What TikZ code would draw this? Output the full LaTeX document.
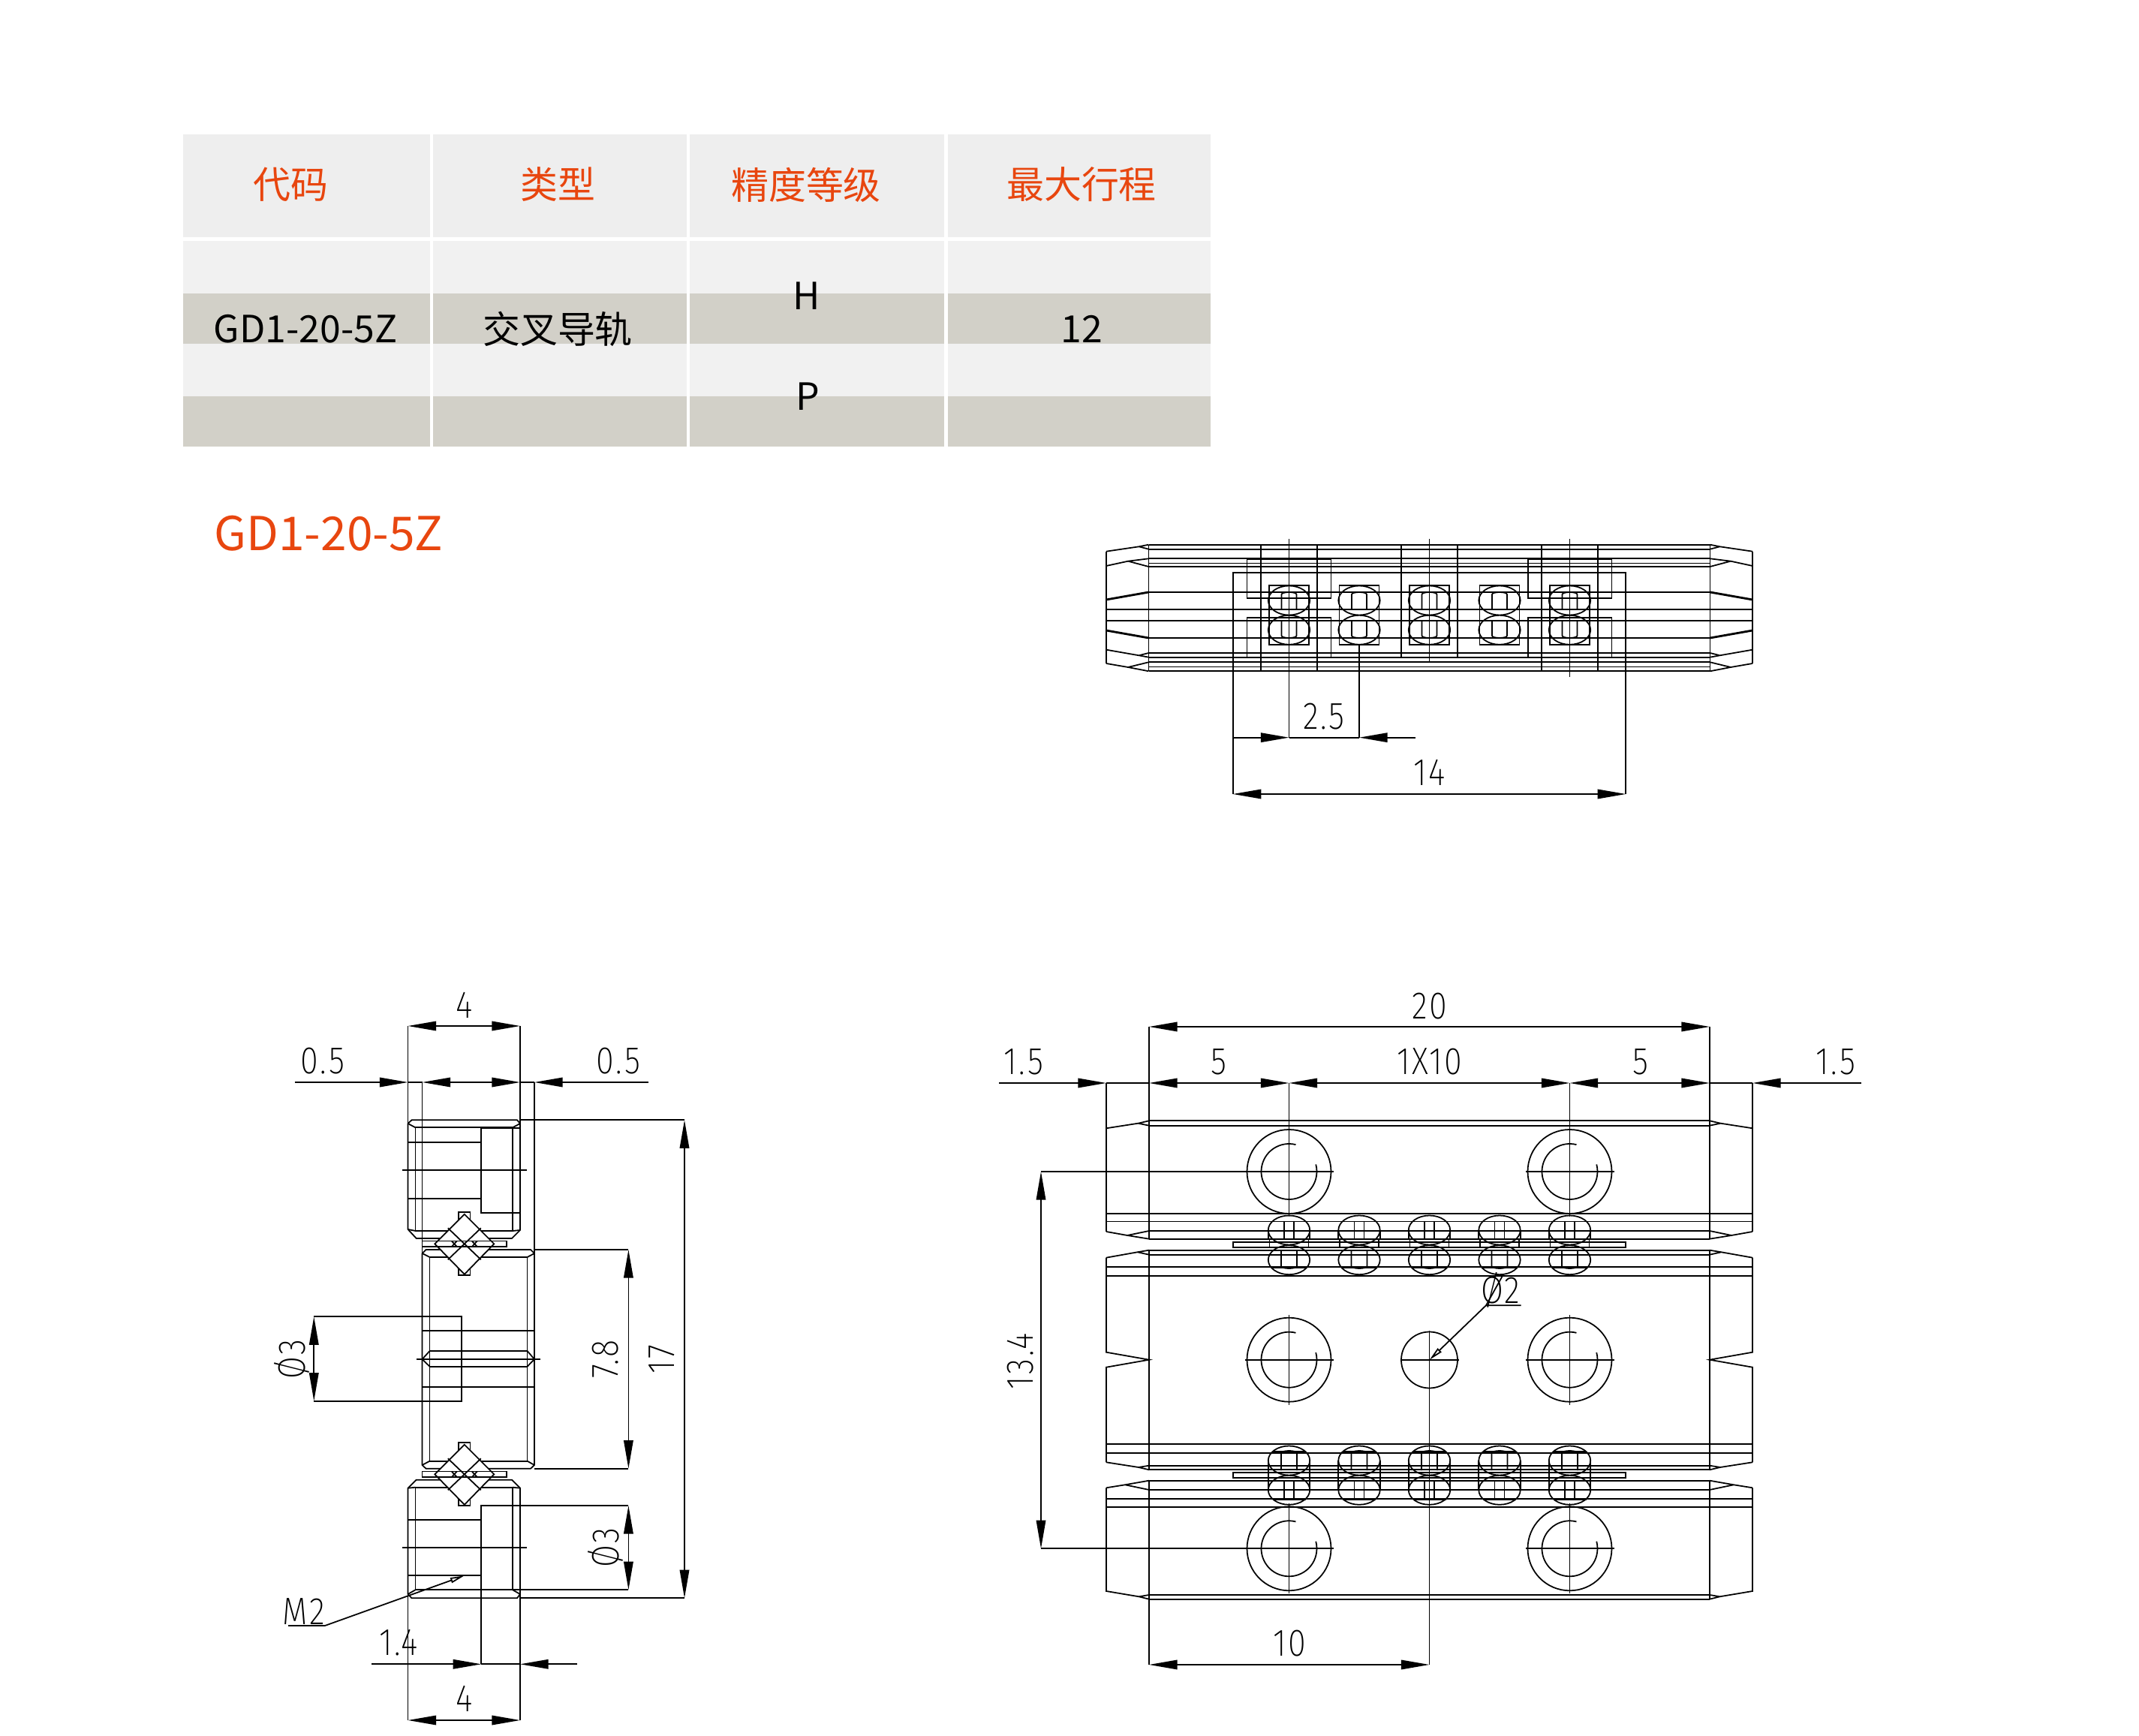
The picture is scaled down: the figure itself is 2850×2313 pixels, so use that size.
\documentclass[tikz,border=0pt]{standalone}
\usepackage{fontspec}
\usepackage{tikz}
\usetikzlibrary{arrows.meta}
\newfontfamily\cjk{Noto Sans CJK SC}
\newfontfamily\cadfont[UprightFont={* ExtraLight},FakeStretch=0.85,LetterSpace=5]{Fira Sans}
\definecolor{headfill}{HTML}{EEEEEE}
\definecolor{lightfill}{HTML}{F1F1F1}
\definecolor{darkfill}{HTML}{D2D0C8}
\definecolor{orangetext}{HTML}{E8460F}

\begin{document}
\begin{tikzpicture}[x=0.01cm,y=-0.01cm,line width=.5pt,>={Triangle[length=.376cm,width=.125cm]},
  dimline/.style={<->},
  dimarrow/.style={->},
  leader/.style={-{Triangle[open,length=.19cm,width=.07cm]}},
  heavy/.style={line width=.8pt},
  headlabel/.style={text=orangetext,font=\cjk\fontsize{14.2}{14.2}\selectfont,inner sep=0pt},
  celllabel/.style={font=\cjk\fontsize{14.2}{14.2}\selectfont,inner sep=0pt},
  dimlabel/.style={font=\cadfont\fontsize{14.5}{14.5}\selectfont,inner sep=0pt}]

  \useasboundingbox (0,0) rectangle (2850,2313);

  % table
  \foreach \xa/\xb in {243.5/573,577/915,919/1258,1262.5/1613} {
    \fill[headfill] (\xa,179) rectangle (\xb,316);
    \fill[lightfill] (\xa,321) rectangle (\xb,391);
    \fill[darkfill] (\xa,391) rectangle (\xb,458);
    \fill[lightfill] (\xa,458) rectangle (\xb,528.5);
    \fill[darkfill] (\xa,528.5) rectangle (\xb,595);
  }
  \node[headlabel] (code) at (387,246) {代码};
  \node[headlabel] (kind) at (743,246) {类型};
  \node[headlabel] (grade) at (1074,246) {精度等级};
  \node[headlabel] (stroke) at (1441,246) {最大行程};
  \node[celllabel] (codeval) at (407,438) {GD1-20-5Z};
  \node[celllabel] (kindval) at (743,438) {交叉导轨};
  \node[celllabel] (gradeh) at (1075,394) {H};
  \node[celllabel] (gradep) at (1076,528) {P};
  \node[celllabel] (strokeval) at (1441,438) {12};
  \node[text=orangetext,font=\cjk\fontsize{17.7}{17.7}\selectfont,inner sep=0pt] (title) at (438,711) {GD1-20-5Z};

  % top view
  \foreach \s in {1,-1} {
    \begin{scope}[shift={(1904.5,0)},xscale=\s]
      \draw (-430.5,734.7)--(-387,728.3)--(-374,725.7) (-387,728.3)--(-374,731.7);
      \draw (-430.5,754)--(-401.5,747.7)--(-374,744.3) (-401.5,747.7)--(-374,755);
      \draw[heavy] (-430.5,799)--(-374,789) (-430.5,840)--(-374,850);
      \draw (-430.5,865.7)--(-387,873.3)--(-374,870) (-387,873.3)--(-374,875.7);
      \draw (-430.5,884)--(-401.5,889)--(-374,882.3) (-401.5,889)--(-374,894.3);
      \draw (-430.5,734.7)--(-430.5,884) (-374,725.7)--(-374,894.3);
    \end{scope}
  }
  \draw (1530.5,725.7)--(2278.5,725.7) (1530.5,731.7)--(2278.5,731.7);
  \draw (1530.5,744.3)--(2278.5,744.3) (1530.5,750.5)--(2278.5,750.5) (1530.5,755)--(2278.5,755);
  \draw[heavy] (1530.5,789)--(2278.5,789) (1530.5,850)--(2278.5,850);
  \draw (1474,812)--(2335,812) (1474,827.3)--(2335,827.3);
  \draw (1530.5,870)--(2278.5,870) (1530.5,875.7)--(2278.5,875.7) (1530.5,882.3)--(2278.5,882.3);
  \draw (1530.5,888.5)--(2278.5,888.5) (1530.5,894.3)--(2278.5,894.3);
  \draw (1642.7,1058)--(1642.7,763)--(2166.3,763)--(2166.3,1058);
  \draw (1661.5,745) rectangle (1773.4,797.3) (1661.5,823.3) rectangle (1773.4,875.7);
  \draw (2035.8,745) rectangle (2147.5,797.3) (2035.8,823.3) rectangle (2147.5,875.7);
  \draw (1680,725.7)--(1680,894.3) (1755,725.7)--(1755,894.3);
  \draw (1867,725.7)--(1867,875.7) (1942,725.7)--(1942,875.7);
  \draw (2054,725.7)--(2054,894.3) (2129,725.7)--(2129,894.3);
  \foreach \cx in {1717.5,1811,1904.5,1998,2091.5} {
    \begin{scope}[shift={(\cx,0)}]
      \draw (-26.5,780) rectangle (26.5,859);
      \draw (0,800) ellipse (27.7 and 19.5) (0,839.3) ellipse (27.7 and 19.5);
      \draw (-10,812)--(-10,792) arc (180:360:10 and 3)--(10,812);
      \draw (-10,827)--(-10,847) arc (180:0:10 and 3)--(10,827);
    \end{scope}
  }
  \draw (1717.5,718)--(1717.5,982.7) (1811,859)--(1811,982.7);
  \draw (1904.5,718)--(1904.5,883) (2091.5,718)--(2091.5,902);
  \draw[dimarrow] (1642.7,982.7)--(1717.5,982.7);
  \draw (1717.5,982.7)--(1811,982.7);
  \draw[dimarrow] (1886,982.7)--(1811,982.7);
  \draw[dimline] (1642.7,1058)--(2166.3,1058);
  \node[dimlabel] (pitch) at (1764,954.5) {2.5};
  \node[dimlabel] (span) at (1905,1029.5) {14};

  % side view, rail blocks
  \draw (543.6,1497)--(548.5,1492.3)--(689,1492.3)--(693,1497)--(693,1639)--(682,1650)--(554.7,1650)--(543.6,1638)--cycle;
  \draw (553.5,1502.3) rectangle (683,1640);
  \draw (543.6,1497)--(553.5,1502.3) (693,1497)--(683,1502.3) (543.6,1638)--(553.5,1640) (693,1639)--(683,1640);
  \draw (641.3,1503.3) rectangle (693,1616);
  \draw (543.6,1521.7)--(641.3,1521.7) (543.6,1596.7)--(641.3,1596.7) (535.7,1559.3)--(701.8,1559.3);
  \draw (543.6,1367)--(543.6,1497) (693,1367)--(693,1497);
  \draw (562.6,1442)--(562.6,1670) (712,1442)--(712,1670);
  \draw (693,1492.3)--(912,1492.3) (712,1665)--(837.4,1665);

  \draw (562.6,1670)--(567.5,1665)--(707,1665)--(712,1670)--(712,1952)--(707,1956.7)--(567.5,1956.7)--(562.6,1952)--cycle;
  \draw (572.5,1675) rectangle (702.6,1946.7);
  \draw (562.6,1670)--(572.5,1675) (712,1670)--(702.6,1675) (562.6,1952)--(572.5,1946.7) (712,1952)--(702.6,1946.7);
  \draw (562.6,1773.3)--(712,1773.3) (562.6,1848.3)--(712,1848.3);
  \draw (572.5,1800)--(702.6,1800) (572.5,1820.7)--(702.6,1820.7);
  \draw (572.5,1800)--(562.6,1811)--(572.5,1820.7) (702.6,1800)--(712,1811)--(702.6,1820.7);
  \draw (554.7,1811)--(719.6,1811);
  \draw (418.3,1754.3)--(614.8,1754.3)--(614.8,1866.7)--(418.3,1866.7);
  \draw (712,1956.7)--(837.4,1956.7);

  \draw (543.6,1982.7)--(554.7,1971.7)--(682,1971.7)--(693,1982.7)--(693,2124)--(689,2129.3)--(548.5,2129.3)--(543.6,2124)--cycle;
  \draw (553.5,1981.7) rectangle (683,2118.3);
  \draw (543.6,1982.7)--(553.5,1981.7) (693,1982.7)--(683,1981.7) (543.6,2124)--(553.5,2118.3) (693,2124)--(683,2118.3);
  \draw (837.4,2006)--(641.3,2006)--(641.3,2217.3) (641.3,2118.3)--(837.4,2118.3);
  \draw (543.6,2025)--(641.3,2025) (543.6,2099.3)--(641.3,2099.3) (535.7,2061.7)--(701.8,2061.7);
  \draw (693,2129.3)--(912,2129.3);
  \draw (543.6,2124)--(543.6,2292) (693,2124)--(693,2292);

  % side view, rollers
  \foreach \yc in {1657.3,1964.3} {
    \begin{scope}[shift={(618.8,\yc)}]
      \draw (-7.7,-42) rectangle (7.7,-30) (-7.7,30) rectangle (7.7,42);
      \draw[fill=white] (0,-39.5)--(39.5,0)--(0,40.5)--(-39.5,0)--cycle;
      \draw (-56.2,-3.8) rectangle (56.2,3.8);
      \draw (-22,-21)--(22,21) (22,-21)--(-22,21);
      \draw (-17,-3.8)--(-10,3.8) (-10,-3.8)--(-17,3.8) (17,-3.8)--(10,3.8) (10,-3.8)--(17,3.8);
    \end{scope}
  }

  % side view, dimensions
  \draw[dimline] (543.6,1367)--(693,1367);
  \draw[dimarrow] (392.6,1442)--(543.6,1442);
  \draw (543.6,1442)--(562.6,1442) (693,1442)--(712,1442);
  \draw[dimline] (562.6,1442)--(693,1442);
  \draw[dimarrow] (864,1442)--(712,1442);
  \draw[dimline] (912,1492.3)--(912,2129.3);
  \draw[dimline] (837.4,1665)--(837.4,1956.7);
  \draw[dimline] (418.3,1754.3)--(418.3,1866.7);
  \draw[dimline] (837.4,2006)--(837.4,2118.3);
  \draw[dimarrow] (495,2217.3)--(641.3,2217.3);
  \draw (641.3,2217.3)--(693,2217.3);
  \draw[dimarrow] (769,2217.3)--(693,2217.3);
  \draw[dimline] (543.6,2292)--(693,2292);
  \draw (384.3,2166)--(433,2166);
  \draw[leader] (433,2166)--(618.8,2099.3);
  \node[dimlabel] (sidewidth) at (618.8,1339) {4};
  \node[dimlabel] (sideleft) at (430,1413.5) {0.5};
  \node[dimlabel] (sideright) at (824,1413.5) {0.5};
  \node[dimlabel,rotate=90] (sidebore) at (389.4,1811) {Ø3};
  \node[dimlabel,rotate=90] (sideheight) at (806.6,1811) {7.8};
  \node[dimlabel,rotate=90] (sidetotal) at (881.7,1811) {17};
  \node[dimlabel,rotate=90] (sidethread) at (806.6,2062) {Ø3};
  \node[dimlabel] (threadlabel) at (404.4,2147) {M2};
  \node[dimlabel] (sidedepth) at (531,2188.5) {1.4};
  \node[dimlabel] (sidebottom) at (618.8,2263.5) {4};

  % front view, outlines
  \foreach \s in {1,-1} {
    \begin{scope}[shift={(1904.5,0)},xscale=\s]
      \draw (-430.5,1503.3)--(-388,1496.7)--(-373.5,1493.3) (-388,1496.7)--(-373.5,1499.7);
      \draw (-430.5,1503.3)--(-430.5,1641) (-373.5,1443)--(-373.5,1650.7);
      \draw (-430.5,1641)--(-402.5,1646)--(-373.5,1640) (-402.5,1646)--(-373.5,1650.7);
      \draw (-430.5,1675.7)--(-389,1668.3)--(-373.5,1665.7) (-389,1668.3)--(-373.5,1671.7);
      \draw (-430.5,1675.7)--(-430.5,1801.7)--(-373.5,1811.7)--(-430.5,1821.7)--(-430.5,1948.3);
      \draw (-373.5,1665.7)--(-373.5,1958.3);
      \draw (-430.5,1948.3)--(-387.5,1955)--(-373.5,1952.7) (-387.5,1955)--(-373.5,1958.3);
      \draw (-430.5,1982.3)--(-405.5,1978.3)--(-373.5,1972.7) (-405.5,1978.3)--(-373.5,1985);
      \draw (-430.5,1982.3)--(-430.5,2120)--(-387,2127.3)--(-373.5,2125) (-387,2127.3)--(-373.5,2130.7);
      \draw (-373.5,1972.7)--(-373.5,2130.7);
      \draw (-430.5,1443)--(-430.5,1503.3);
    \end{scope}
  }
  \draw (1531,1493.3)--(2278,1493.3) (1531,1499.7)--(2278,1499.7);
  \draw (1474,1616.7)--(2335,1616.7) (1474,1627.5)--(2335,1627.5);
  \draw (1531,1640)--(2278,1640) (1531,1650.7)--(2278,1650.7);
  \draw (1531,1665.7)--(2278,1665.7) (1531,1671.7)--(2278,1671.7);
  \draw (1474,1687.7)--(2335,1687.7) (1474,1700)--(2335,1700);
  \draw (1474,1924)--(2335,1924) (1474,1935.7)--(2335,1935.7);
  \draw (1531,1952.7)--(2278,1952.7) (1531,1958.3)--(2278,1958.3);
  \draw (1531,1972.7)--(2278,1972.7) (1531,1985)--(2278,1985);
  \draw (1474,1996.7)--(2335,1996.7) (1474,2007.7)--(2335,2007.7);
  \draw (1531,2125)--(2278,2125) (1531,2130.7)--(2278,2130.7);
  \draw (1642.7,1655) rectangle (2166.3,1662.3) (1642.7,1962.3) rectangle (2166.3,1969.3);

  % front view, rollers
  \foreach \cx in {1717.5,1811,1904.5,1998,2091.5} {
    \begin{scope}[shift={(\cx,0)}]
      \draw (0,1639) ellipse (27.7 and 19.5) (0,1678.7) ellipse (27.7 and 19.5);
      \draw (-27.7,1640)--(-27.7,1651) (27.7,1640)--(27.7,1651) (-26,1651)--(-26,1662) (26,1651)--(26,1662);
      \draw (-6.5,1627.7)--(-6.5,1651) (6.5,1627.7)--(6.5,1651);
      \draw (-10.5,1666)--(-10.5,1687) arc (180:0:10.5 and 3)--(10.5,1666);
      \draw (-22,1689.5)--(22,1689.5);
      \draw (0,1946) ellipse (27.7 and 19.5) (0,1985.3) ellipse (27.7 and 19.5);
      \draw (-27.7,1946)--(-27.7,1985) (27.7,1946)--(27.7,1985);
      \draw (-10.5,1959)--(-10.5,1936) arc (180:360:10.5 and 3)--(10.5,1959);
      \draw (-22,1934)--(22,1934);
      \draw (-6.5,1974)--(-6.5,1997) (6.5,1974)--(6.5,1997);
      \draw (-22,1998.5)--(22,1998.5);
    \end{scope}
  }

  % front view, mounting holes
  \foreach \cx/\cy in {1717.5/1561,2091.5/1561,1717.5/1811.7,2091.5/1811.7,1717.5/2063.3,2091.5/2063.3} {
    \begin{scope}[shift={(\cx,\cy)}]
      \draw (0,0) circle (56);
      \draw (-76:37) arc (-76:-375:37);
      \draw (-59,0)--(59,0) (0,-60)--(0,60);
    \end{scope}
  }
  \draw (1904.5,1812) circle (37.5);
  \draw (1865.5,1812)--(1943.5,1812) (1904.5,1773)--(1904.5,2218);

  % front view, dimensions
  \draw (1717.5,1443)--(1717.5,1505) (2091.5,1443)--(2091.5,1505);
  \draw (2278,1368)--(2278,1493.3) (1531,1368)--(1531,1443);
  \draw (1531,2130.7)--(1531,2218);
  \draw[dimline] (1531,1368)--(2278,1368);
  \draw[dimarrow] (1331,1443)--(1474,1443);
  \draw (1474,1443)--(1531,1443);
  \draw[dimline] (1531,1443)--(1717.5,1443);
  \draw[dimline] (1717.5,1443)--(2091.5,1443);
  \draw[dimline] (2091.5,1443)--(2278,1443);
  \draw (2278,1443)--(2335,1443);
  \draw[dimarrow] (2480,1443)--(2335,1443);
  \draw (1387,1561)--(1717.5,1561) (1387,2063.3)--(1717.5,2063.3);
  \draw[dimline] (1387,1561)--(1387,2063.3);
  \draw[dimline] (1531,2218)--(1904.5,2218);
  \draw (2026.7,1739.3)--(1980,1739.3)--(2003,1698);
  \draw[leader] (1980,1739.3)--(1904.5,1812);
  \node[dimlabel] (frontwidth) at (1905,1340.5) {20};
  \node[dimlabel] (frontleft) at (1364,1414.5) {1.5};
  \node[dimlabel] (firstpitch) at (1624,1414.5) {5};
  \node[dimlabel] (holepitch) at (1905,1414.5) {1X10};
  \node[dimlabel] (lastpitch) at (2186,1414.5) {5};
  \node[dimlabel] (frontright) at (2446,1414.5) {1.5};
  \node[dimlabel,rotate=90] (frontheight) at (1360,1814) {13.4};
  \node[dimlabel] (rollerdia) at (1999,1719) {Ø2};
  \node[dimlabel] (frontbottom) at (1718,2189.5) {10};
\end{tikzpicture}
\end{document}
